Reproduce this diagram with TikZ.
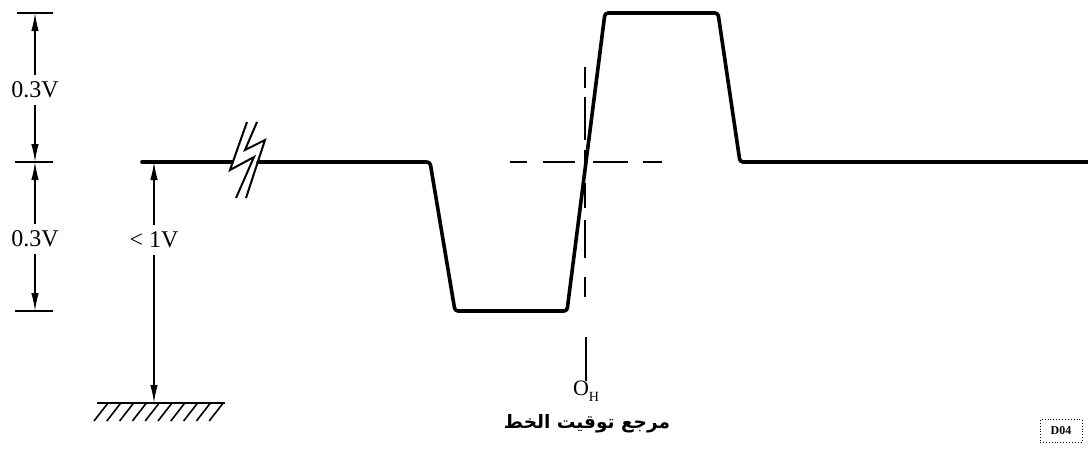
\documentclass[tikz,border=0pt]{standalone}
\usepackage{fontspec}
\setmainfont{Liberation Serif}
\newfontfamily\arabicfont[Script=Arabic]{DejaVu Sans}
\TeXXeTstate=1
\usetikzlibrary{arrows.meta}
\tikzset{
  sig/.style={line width=3.6pt, line join=round, line cap=round, rounded corners=3pt},
  tick/.style={line width=1.8pt},
  dimline/.style={line width=1.4pt},
  dimarrow/.style={dimline, -{Latex[length=18pt,width=7.5pt]}},
  reftick/.style={line width=1.6pt},
  lbl/.style={font=\fontsize{24}{28}\selectfont, inner xsep=0pt, inner ysep=7pt},
  bolt/.style={line width=2pt, line join=miter},
}
\begin{document}
\begin{tikzpicture}[x=1pt,y=-1pt]
\useasboundingbox (0,0) rectangle (1088,448);
% left dimension ticks
\coordinate (t1) at (35,13);
\coordinate (t2) at (35,162);
\coordinate (t3) at (35,311);
\draw[tick] (17,13) -- (53,13);
\draw[tick] (15,162) -- (53,162);
\draw[tick] (15,311) -- (53,311);
\node[lbl] (l1) at (35,90) {0.3V};
\node[lbl] (l2) at (35,239) {0.3V};
\draw[dimarrow] (l1.north) -- (t1);
\draw[dimarrow] (l1.south) -- (t2);
\draw[dimarrow] (l2.north) -- (t2);
\draw[dimarrow] (l2.south) -- (t3);
% <1V dimension
\coordinate (base) at (154,162);
\coordinate (gnd) at (154,403);
\node[lbl] (l3) at (154,240) {< 1V};
\draw[dimarrow] (l3.north) -- (base);
\draw[dimarrow] (l3.south) -- (gnd);
% ground
\draw[tick] (97,403) -- (225,403);
\foreach \i in {0,...,9} {
  \draw[line width=1.6pt] ({108+12.8*\i},403) -- ({94+12.8*\i},421);
}
% signal
\draw[sig] (142,162) -- (232,162);
\draw[sig] (258,162) -- (430,162) -- (455,311) -- (567,311) -- (605,13) -- (718,13) -- (740,162) -- (1090,162);
% break symbol
\draw[bolt] (247,122) -- (230,170) -- (254,157) -- (236,198);
\draw[bolt] (257,122) -- (245,150) -- (265,140) -- (246,198);
% reference dashed lines
\foreach \a/\b in {510/527, 543/575, 593/628, 643/662}
  \draw[line width=1.6pt] (\a,162) -- (\b,162);
\foreach \a/\b in {67/88, 97/140, 150/172, 183/208, 220/258, 277/297}
  \draw[line width=1.6pt] (585,\a) -- (585,\b);
\coordinate (rtop) at (586,337);
\node[inner sep=0pt, anchor=north] (oh) at (586,381) {\fontsize{22}{24}\selectfont O\raisebox{-0.28em}{\fontsize{14}{14}\selectfont H}};
\draw[reftick] (rtop) -- (oh.north);
\node[inner sep=0pt] (ar) at (587,424) {\arabicfont\fontsize{18.5}{22}\selectfont\bfseries\beginR مرجع توقيت الخط\endR};
% scan mark
\node[draw, dotted, line width=0.9pt, minimum width=42pt, minimum height=23pt, inner sep=1pt, font=\bfseries\fontsize{12}{12}\selectfont] (mk) at (1061,431) {D04};
\end{tikzpicture}
\end{document}
